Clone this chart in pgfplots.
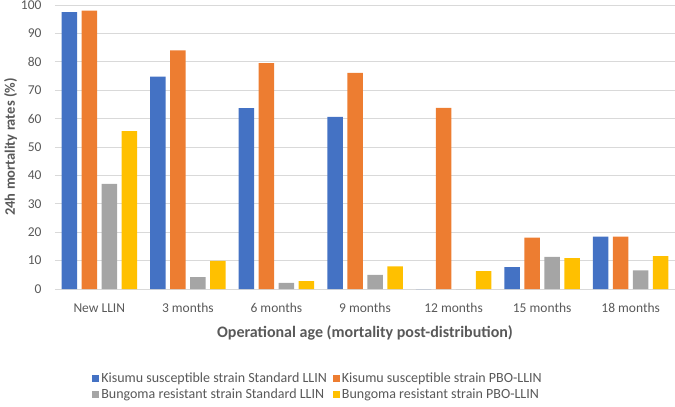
\documentclass[border=0pt]{standalone}
\usepackage{pgfplots}
\pgfplotsset{compat=1.18}
\usepackage{fontspec}
\setmainfont{Carlito}
\definecolor{cblue}{HTML}{4472C4}
\definecolor{corange}{HTML}{ED7D31}
\definecolor{cgray}{HTML}{A5A5A5}
\definecolor{cyellow}{HTML}{FFC000}
\definecolor{txt}{HTML}{595959}
\definecolor{gridc}{HTML}{D9D9D9}
\begin{document}
\begin{tikzpicture}
\begin{axis}[
  name=ax,
  scale only axis,
  width=620pt, height=284pt,
  ybar=4.5pt, bar width=15.5pt,
  xmin=-0.5, xmax=6.5,
  ymin=0, ymax=100,
  ytick={0,10,...,100},
  xtick=data,
  xticklabels={New LLIN,3 months,6 months,9 months,12 months,15 months,18 months},
  axis lines*=left,
  x axis line style={gridc, line width=0.9pt, -},
  y axis line style={draw=none},
  ymajorgrids, xmajorgrids=false, grid style={gridc, line width=0.9pt},
  major tick length=0pt,
  tick label style={font=\fontsize{13.5}{15}\selectfont, text=txt},
  /pgf/number format/assume math mode=true,
  yticklabel style={xshift=-10pt},
  xticklabel style={yshift=-11pt},
  ylabel={\textbf{24h mortality rates (\%)}},
  ylabel style={font=\fontsize{14.5}{16}\selectfont, text=txt, yshift=-3pt},
  xlabel={\textbf{Operational age (mortality post-distribution)}},
  xlabel style={font=\fontsize{16}{18}\selectfont, text=txt, yshift=-6pt},
  legend style={draw=none, at={(0.055,-0.28)}, anchor=north west,
    font=\fontsize{14}{16}\selectfont, text=txt,
    /tikz/every even column/.append style={column sep=4pt},
    row sep=1pt},
  legend columns=2,
  legend image code/.code={\fill[#1] (0pt,-3.5pt) rectangle (7pt,3.5pt);},
  legend cell align=left,
]
\addplot[fill=cblue, draw=none] coordinates {(0,97.5) (1,74.8) (2,63.7) (3,60.6) (4,0) (5,7.7) (6,18.4)};
\addplot[fill=corange, draw=none] coordinates {(0,98) (1,84) (2,79.5) (3,76.1) (4,63.8) (5,18.1) (6,18.4)};
\addplot[fill=cgray, draw=none] coordinates {(0,37) (1,4.2) (2,2.2) (3,5) (4,0) (5,11.3) (6,6.6)};
\addplot[fill=cyellow, draw=none] coordinates {(0,55.6) (1,9.9) (2,2.8) (3,8) (4,6.3) (5,10.9) (6,11.6)};
\legend{Kisumu susceptible strain Standard LLIN, Kisumu susceptible strain PBO-LLIN, Bungoma resistant strain Standard LLIN, Bungoma resistant strain PBO-LLIN}
\end{axis}
\pgfresetboundingbox
\path[use as bounding box] ([xshift=-55pt,yshift=-118pt]ax.south west) rectangle ([yshift=5pt]ax.north east);
\end{tikzpicture}
\end{document}
